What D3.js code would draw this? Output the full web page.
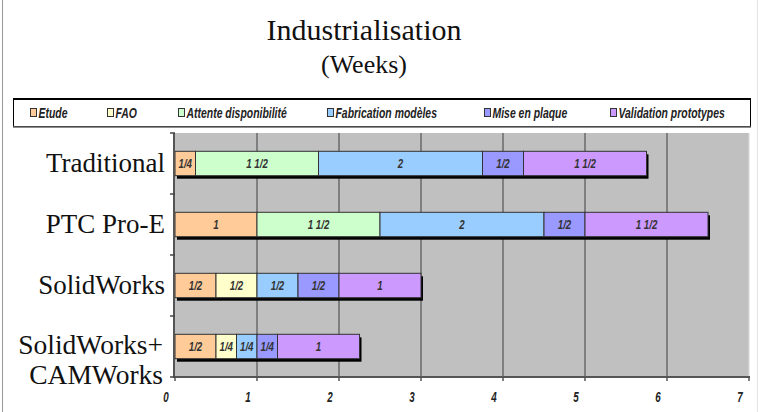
<!DOCTYPE html>
<html><head><meta charset="utf-8">
<script src="https://cdn.jsdelivr.net/npm/d3@7"></script>
<style>
body{margin:0;background:#fff;}
svg{display:block;}
.narrow{font-family:"Liberation Sans","Arial",sans-serif;font-weight:bold;font-style:italic;}
.serif{font-family:"Liberation Serif","Times New Roman",serif;}
</style></head>
<body><svg id="chart" width="768" height="412"></svg>
<script>
const categories = ["Traditional", "PTC Pro-E", "SolidWorks", "SolidWorks+|CAMWorks"];
const seriesNames = ["Etude", "FAO", "Attente disponibilité", "Fabrication modèles", "Mise en plaque", "Validation prototypes"];
const etude      = [0.25, 1,   0.5, 0.5];
const fao        = [0,    0,   0.5, 0.25];
const attente    = [1.5,  1.5, 0,   0];
const fabrication= [2,    2,   0.5, 0.25];
const mise       = [0.5,  0.5, 0.5, 0.25];
const validation = [1.5,  1.5, 1,   1];
const xTicks = [0, 1, 2, 3, 4, 5, 6, 7];
const colors = ["#FFCC99", "#FFFFCC", "#CCFFCC", "#99CCFF", "#9999FF", "#CC99FF"];

const seriesValues = [etude, fao, attente, fabrication, mise, validation];
const table = categories.map((c, i) => {
  const row = {cat: c};
  seriesNames.forEach((s, j) => row[s] = seriesValues[j][i]);
  return row;
});

function frac(v) {
  const w = Math.floor(v), f = v - w;
  const fs = f === 0.25 ? "1/4" : f === 0.5 ? "1/2" : f === 0.75 ? "3/4" : "";
  if (w === 0) return fs;
  return fs ? w + " " + fs : String(w);
}
function squeeze(sel, fx, fy, sx) {
  sel.attr("transform", (d, i) => `translate(${fx(d, i)},${fy(d, i)}) scale(${sx},1)`);
}

const svg = d3.select("#chart");
svg.append("line").attr("x1", 2.5).attr("x2", 2.5).attr("y1", 0).attr("y2", 412).attr("stroke", "#999").attr("stroke-width", 1);
svg.append("line").attr("x1", 757.5).attr("x2", 757.5).attr("y1", 0).attr("y2", 412).attr("stroke", "#e4e4e4").attr("stroke-width", 1);

// title
svg.append("text").attr("class", "serif").attr("x", 364).attr("y", 40).attr("text-anchor", "middle")
  .attr("font-size", 30).attr("fill", "#111").text("Industrialisation");
svg.append("text").attr("class", "serif").attr("x", 364).attr("y", 73).attr("text-anchor", "middle")
  .attr("font-size", 26).attr("fill", "#111").text("(Weeks)");

// legend
const lg = svg.append("g");
lg.append("rect").attr("x", 13.5).attr("y", 98.5).attr("width", 737).attr("height", 28).attr("fill", "#fff").attr("stroke", "#000").attr("stroke-width", 1);
lg.append("line").attr("x1", 13).attr("x2", 751).attr("y1", 99).attr("y2", 99).attr("stroke", "#000").attr("stroke-width", 2);
lg.append("line").attr("x1", 13).attr("x2", 751).attr("y1", 127).attr("y2", 127).attr("stroke", "#666").attr("stroke-width", 1.5);
const legendX = [30, 107, 178, 327, 484, 610];
seriesNames.forEach((s, i) => {
  lg.append("rect").attr("x", legendX[i] + 0.5).attr("y", 108.5).attr("width", 6).attr("height", 8)
    .attr("fill", colors[i]).attr("stroke", "#333").attr("stroke-width", 1);
  const t = lg.append("text").attr("class", "narrow").attr("font-size", 14.5).attr("fill", "#222").text(s);
  squeeze(t, () => legendX[i] + 8.5, () => 118, 0.72);
});

// plot
const pL = 175, pR = 749, pT = 133, pB = 377;
const x = d3.scaleLinear().domain([0, 7]).range([pL, pR]);
const y = d3.scaleBand().domain(categories).range([pT, pB]).paddingInner(0.6).paddingOuter(0.3);
const yb = d3.scaleBand().domain(categories).range([pT, pB]);

svg.append("rect").attr("x", pL).attr("y", pT).attr("width", pR - pL).attr("height", pB - pT).attr("fill", "#C0C0C0");

svg.append("g").selectAll("line").data(xTicks.slice(1, -1)).join("line")
  .attr("x1", d => x(d)).attr("x2", d => x(d)).attr("y1", pT).attr("y2", pB)
  .attr("stroke", "#6a6a6a").attr("stroke-width", 1.5);
svg.append("line").attr("x1", pR).attr("x2", pR).attr("y1", pT).attr("y2", pB).attr("stroke", "#d8d8d8");

// bars
const stack = d3.stack().keys(seriesNames)(table);
const totals = table.map(r => d3.sum(seriesNames, s => r[s]));
svg.append("g").selectAll("rect").data(table).join("rect")
  .attr("x", x(0) + 2).attr("y", d => y(d.cat) + 3)
  .attr("width", (d, i) => x(totals[i]) - x(0)).attr("height", y.bandwidth())
  .attr("fill", "#000");
const gs = svg.append("g").selectAll("g").data(stack).join("g").attr("fill", (d, i) => colors[i]);
gs.selectAll("rect").data(d => d.filter(p => p[1] - p[0] > 0)).join("rect")
  .attr("x", d => x(d[0])).attr("y", d => y(d.data.cat))
  .attr("width", d => x(d[1]) - x(d[0])).attr("height", y.bandwidth())
  .attr("stroke", "#333").attr("stroke-width", 1);
const bl = gs.selectAll("text").data(d => d.filter(p => p[1] - p[0] > 0)).join("text")
  .attr("class", "narrow").attr("text-anchor", "middle").attr("font-size", 12.5).attr("fill", "#333")
  .text(d => frac(d[1] - d[0]));
squeeze(bl, d => (x(d[0]) + x(d[1])) / 2, d => y(d.data.cat) + y.bandwidth() / 2 + 4.5, 0.78);

// axes
svg.append("line").attr("x1", pL - 1).attr("x2", pL - 1).attr("y1", pT).attr("y2", pB).attr("stroke", "#555").attr("stroke-width", 2);
svg.append("line").attr("x1", pL - 2).attr("x2", pR + 1).attr("y1", pB).attr("y2", pB).attr("stroke", "#555").attr("stroke-width", 2);
const ybTicks = categories.map(c => yb(c)).concat([pB]);
svg.append("g").selectAll("line").data(ybTicks).join("line")
  .attr("x1", pL - 5).attr("x2", pL).attr("y1", d => d).attr("y2", d => d)
  .attr("stroke", "#444").attr("stroke-width", 1.5);
svg.append("g").selectAll("line").data(xTicks).join("line")
  .attr("x1", d => x(d)).attr("x2", d => x(d)).attr("y1", pB).attr("y2", pB + 4)
  .attr("stroke", "#555").attr("stroke-width", 1.5);
const xl = svg.append("g").selectAll("text").data(xTicks).join("text")
  .attr("class", "narrow").attr("text-anchor", "middle").attr("font-size", 14).attr("fill", "#222").text(d => d);
squeeze(xl, d => x(d) - 9, () => pB + 25, 0.7);

// category labels
const cl = svg.append("g").selectAll("text").data(categories).join("text")
  .attr("class", "serif").attr("font-size", 27).attr("text-anchor", "end").attr("fill", "#111");
cl.each(function(c) {
  const parts = c.split("|");
  const cy = y(c) + y.bandwidth() / 2;
  const t = d3.select(this);
  if (parts.length === 1) {
    t.append("tspan").attr("x", 165).attr("y", cy + 8).text(parts[0]);
  } else {
    t.attr("font-size", 27.5);
    t.append("tspan").attr("x", 163).attr("y", cy + 7).text(parts[0]);
    t.append("tspan").attr("x", 163).attr("y", cy + 37).text(parts[1]);
  }
});
</script></body></html>
